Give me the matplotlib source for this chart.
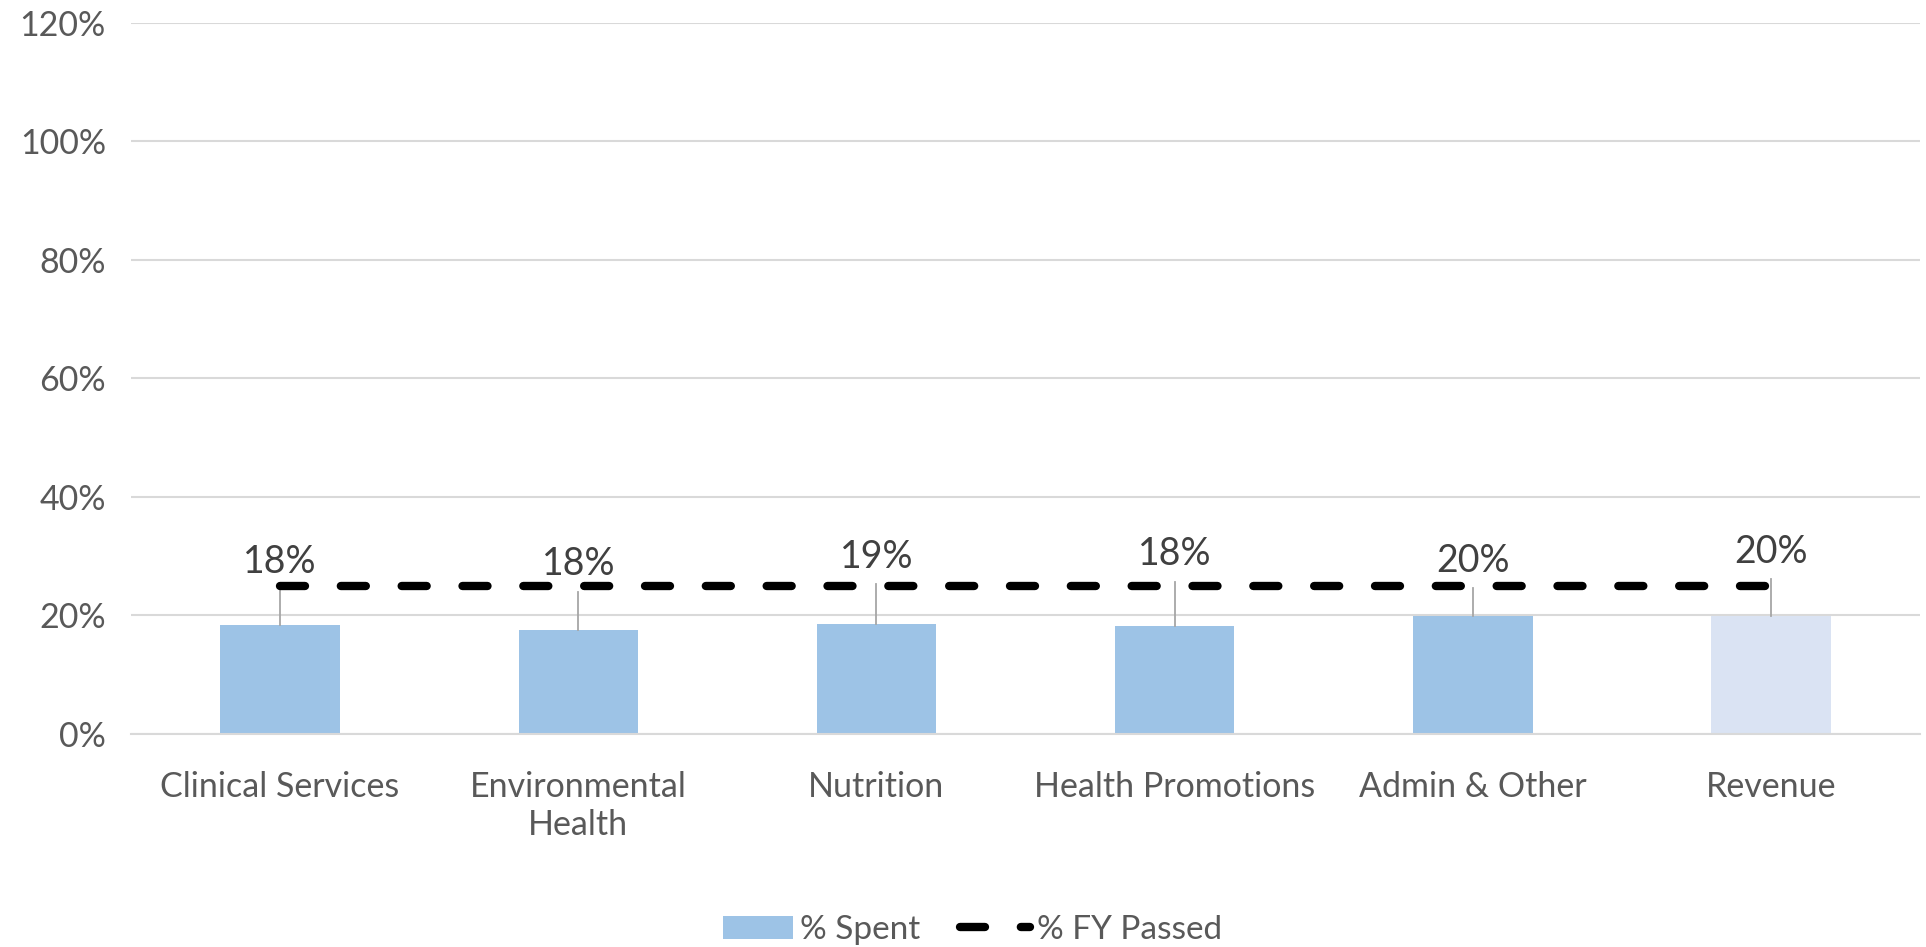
import matplotlib.pyplot as plt
import numpy as np

categories = ["Clinical Services", "Environmental\nHealth", "Nutrition",
              "Health Promotions", "Admin & Other", "Revenue"]
pct_spent = [18.4, 17.6, 18.6, 18.3, 19.9, 19.9]
spent_labels = ["18%", "18%", "19%", "18%", "20%", "20%"]
fy_passed = [25, 25, 25, 25, 25, 25]
# where the data labels were dragged to (percent units)
label_y = [29.0, 28.6, 29.9, 30.3, 29.2, 30.7]

plt.rcParams["font.family"] = ["Lato", "DejaVu Sans"]
grey = "#595959"

fig = plt.figure(figsize=(19.26, 9.47), dpi=100)
ax = fig.add_axes([0.068, 0.225, 0.929, 0.7507])

x = np.arange(len(categories))
bar_colors = ["#9DC3E6"] * 5 + ["#DAE3F3"]
bars = ax.bar(x, pct_spent, width=0.4, color=bar_colors, label="% Spent", zorder=2)
line, = ax.plot(x, fy_passed, color="black", lw=6, dashes=(3, 4.3),
                dash_capstyle="round", label="% FY Passed", zorder=3)

for i in range(len(x)):
    ax.plot([x[i], x[i]], [pct_spent[i], label_y[i] - 4.6], color="#A6A6A6",
            lw=1.3, zorder=2.5)
    ax.text(x[i], label_y[i], spent_labels[i], ha="center", va="center",
            fontsize=27, color="#404040")

ax.set_xlim(-0.5, len(categories) - 0.5)
ax.set_ylim(0, 120)
ax.set_yticks(np.arange(0, 121, 20))
ax.set_yticklabels([f"{v}%" for v in range(0, 121, 20)])
ax.set_xticks(x)
ax.set_xticklabels(categories)
ax.tick_params(axis="both", length=0, labelsize=24.5, labelcolor=grey)
ax.tick_params(axis="x", pad=27)
ax.tick_params(axis="y", pad=18)
ax.grid(axis="y", color="#D9D9D9", lw=1.5, zorder=0)
ax.set_axisbelow(True)
for side in ["top", "right", "left"]:
    ax.spines[side].set_visible(False)
ax.spines["bottom"].set_color("#D9D9D9")
ax.spines["bottom"].set_linewidth(1.5)

fig.legend([bars, line], ["% Spent", "% FY Passed"], loc="center",
           bbox_to_anchor=(0.505, 0.018), ncol=2, frameon=False, fontsize=24,
           labelcolor=grey, handlelength=2.1, columnspacing=1.2,
           handletextpad=0.2)

fig.savefig("out.png", dpi=100)
